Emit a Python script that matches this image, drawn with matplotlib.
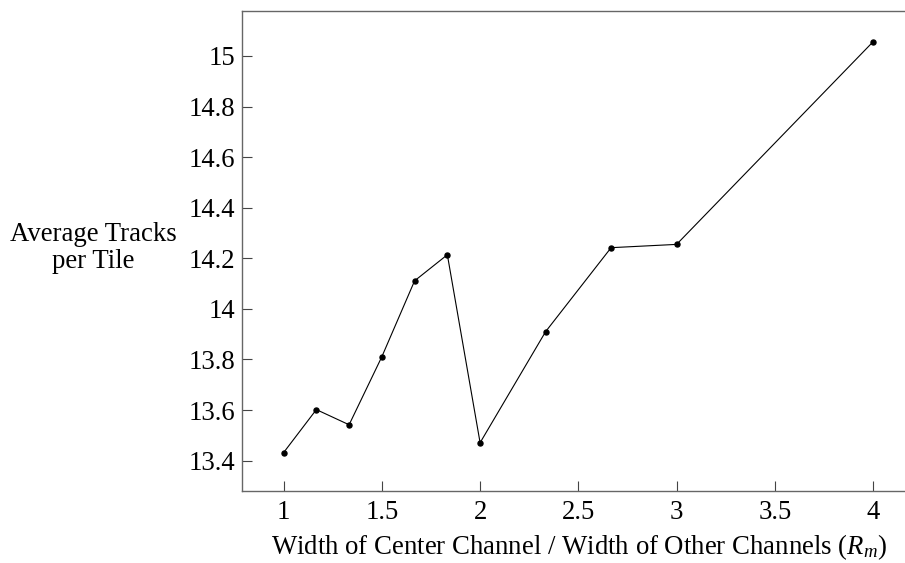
import matplotlib
matplotlib.use("Agg")
import matplotlib.pyplot as plt

x_values = [1, 7/6, 4/3, 1.5, 5/3, 11/6, 2, 7/3, 8/3, 3, 4]
y_values = [13.432, 13.602, 13.542, 13.811, 14.111, 14.214, 13.471, 13.910, 14.242, 14.255, 15.056]
x_ticks = [1, 1.5, 2, 2.5, 3, 3.5, 4]
x_tick_labels = ["1", "1.5", "2", "2.5", "3", "3.5", "4"]
y_ticks = [13.4, 13.6, 13.8, 14, 14.2, 14.4, 14.6, 14.8, 15]
y_tick_labels = ["13.4", "13.6", "13.8", "14", "14.2", "14.4", "14.6", "14.8", "15"]

plt.rcParams['font.family'] = ['Liberation Serif', 'DejaVu Serif']
plt.rcParams['mathtext.fontset'] = 'custom'
plt.rcParams['mathtext.rm'] = 'Liberation Serif'
plt.rcParams['mathtext.it'] = 'Liberation Serif:italic'

W, H = 905, 563
FS = 19.3
fig = plt.figure(figsize=(W / 100, H / 100), dpi=100)
right_px = 915.0
ax = fig.add_axes([242.3 / W, 1 - 490.7 / H, (right_px - 242.3) / W, (490.7 - 10.7) / H])

ax.plot(x_values, y_values, color='black', linewidth=0.8, marker='o', markersize=3.6,
        markerfacecolor='black', markeredgecolor='black')

ax.set_xlim(0.7898, 1 + (right_px - 283.6) / 196.5)
ax.set_ylim(13.2814, 15.1787)
ax.set_xticks(x_ticks)
ax.set_xticklabels(x_tick_labels)
ax.set_yticks(y_ticks)
ax.set_yticklabels(y_tick_labels)

for s in ['left', 'bottom', 'top']:
    ax.spines[s].set_color('#666666')
    ax.spines[s].set_linewidth(1.0)
ax.spines['right'].set_visible(False)

ax.tick_params(direction='in', length=7, width=0.8, color='#444444',
               labelsize=FS, top=False, right=False)
ax.tick_params(axis='x', pad=7)
ax.tick_params(axis='y', pad=5)

ax.set_xlabel('Width of Center Channel / Width of Other Channels ($R_m$)', fontsize=FS, labelpad=5)
fig.text(93.5 / W, 1 - 248 / H, 'Average Tracks\nper Tile', fontsize=FS,
         ha='center', va='center', multialignment='center', linespacing=1.15)

fig.savefig('out.png', dpi=100)
